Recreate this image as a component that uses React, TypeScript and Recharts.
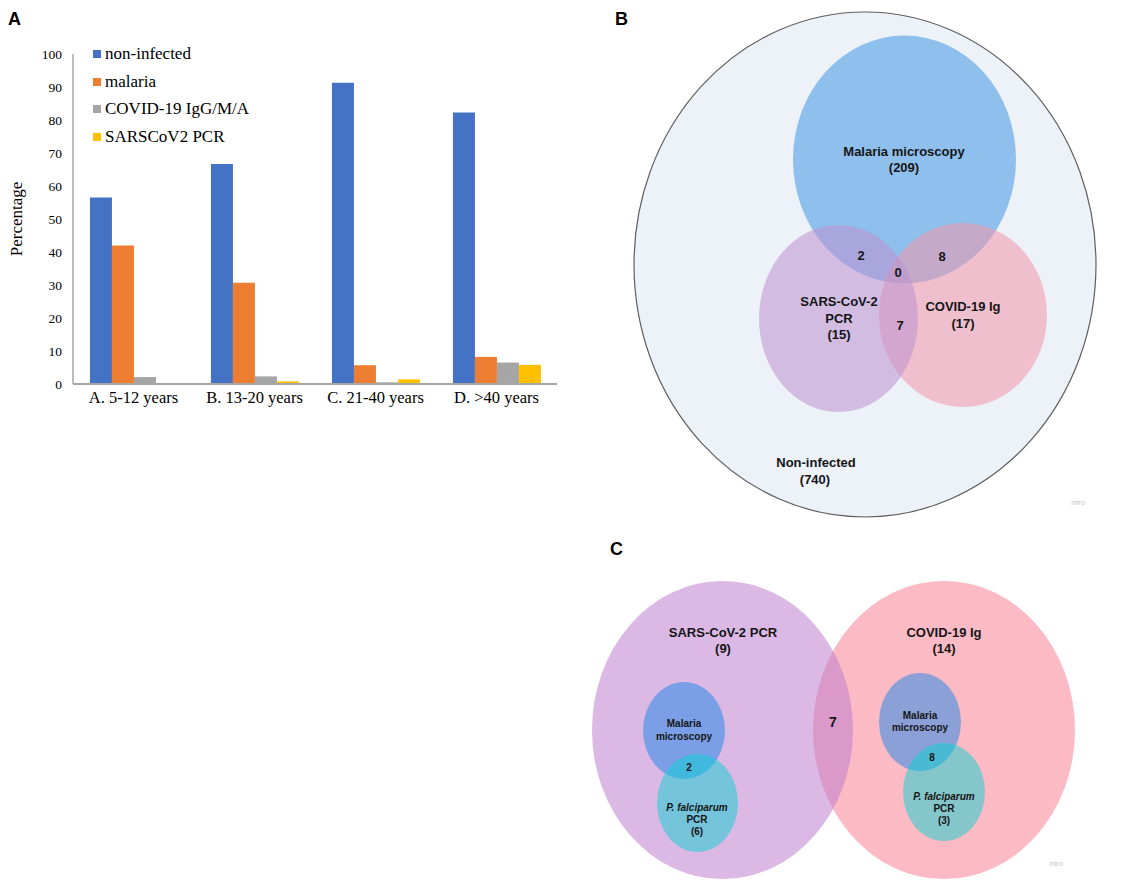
import React from 'react';
import { BarChart, Bar, XAxis, YAxis, Legend, ScatterChart, Scatter } from 'recharts';

// ---- Panel A data ----
const ageGroups = ['A. 5-12 years', 'B. 13-20 years', 'C. 21-40 years', 'D. >40 years'];
const seriesNames = ['non-infected', 'malaria', 'COVID-19 IgG/M/A', 'SARSCoV2 PCR'];
const nonInfected = [56.5, 66.7, 91.3, 82.3];
const malaria = [42.0, 30.7, 5.7, 8.2];
const covidIg = [2.1, 2.3, 0.5, 6.5];
const sarsPcr = [0, 0.8, 1.4, 5.8];
const yTicks = [0, 10, 20, 30, 40, 50, 60, 70, 80, 90, 100];

// ---- Panel B data ----
const vennBNames = ['Non-infected', 'Malaria microscopy', 'COVID-19 Ig', 'SARS-CoV-2 PCR'];
const vennBCounts = [740, 209, 17, 15];
const vennBOverlaps = [2, 8, 0, 7]; // malaria∩sars, malaria∩covid, all three, sars∩covid

// ---- Panel C data ----
const vennCNames = ['COVID-19 Ig', 'SARS-CoV-2 PCR', 'Malaria microscopy', 'P. falciparum PCR'];
const vennCCounts = [14, 9, 6, 3];
const vennCOverlaps = [7, 2, 8]; // sars∩covid, malaria∩pf (sars side), malaria∩pf (covid side)

const serif = '"Liberation Serif", "Times New Roman", serif';
const sans = '"Liberation Sans", Arial, sans-serif';

const barData = ageGroups.map((g, i) => ({
  group: g,
  nonInfected: nonInfected[i],
  malaria: malaria[i],
  covid: covidIg[i],
  sars: sarsPcr[i],
}));

// layout of the diagrams (panel units, 1 unit = 1 px)
const B_W = 533;
const B_H = 530;
const bGeom = [
  { x: 265, y: 264.5, rx: 231, ry: 252.5 },
  { x: 304.5, y: 159.5, rx: 111.5, ry: 124 },
  { x: 363, y: 315, rx: 84, ry: 92 },
  { x: 238.5, y: 318.5, rx: 79.5, ry: 93.5 },
];
const bStyle = [
  { fill: '#edf2f8', opacity: 1, stroke: '#5f5f5f' },
  { fill: '#8fc0ed', opacity: 1 },
  { fill: 'rgb(240,150,170)', opacity: 0.55 },
  { fill: 'rgb(189,147,208)', opacity: 0.56 },
];

const C_W = 573;
const C_H = 370;
const cGeom = [
  { x: 384, y: 210, rx: 131, ry: 149 },
  { x: 162.5, y: 210, rx: 130.5, ry: 149 },
  { x: 124, y: 210.5, rx: 41, ry: 48.5 },
  { x: 137.5, y: 283, rx: 40.5, ry: 49 },
  { x: 360, y: 202, rx: 41, ry: 49 },
  { x: 384, y: 272, rx: 41, ry: 49 },
];
const cStyle = [
  { fill: '#fcbac4', opacity: 1 },
  { fill: 'rgb(191,126,208)', opacity: 0.55 },
  { fill: 'rgb(30,135,231)', opacity: 0.51 },
  { fill: 'rgb(0,212,210)', opacity: 0.47 },
  { fill: 'rgb(30,135,231)', opacity: 0.51 },
  { fill: 'rgb(0,212,210)', opacity: 0.47 },
];

const bCircles = bGeom.map((g, i) => ({ ...g, ...bStyle[i], name: vennBNames[i] }));
const cCircles = cGeom.map((g, i) => ({ ...g, ...cStyle[i] }));

const bLabels = [
  { x: 304, y: 151, text: vennBNames[1], size: 13 },
  { x: 304, y: 167, text: `(${vennBCounts[1]})`, size: 13 },
  { x: 261, y: 255, text: String(vennBOverlaps[0]), size: 13 },
  { x: 342, y: 256, text: String(vennBOverlaps[1]), size: 13 },
  { x: 298, y: 272, text: String(vennBOverlaps[2]), size: 13 },
  { x: 239, y: 301, text: 'SARS-CoV-2', size: 13 },
  { x: 239, y: 318, text: 'PCR', size: 13 },
  { x: 239, y: 334, text: `(${vennBCounts[3]})`, size: 13 },
  { x: 300, y: 325, text: String(vennBOverlaps[3]), size: 13 },
  { x: 363, y: 306, text: vennBNames[2], size: 13 },
  { x: 363, y: 323, text: `(${vennBCounts[2]})`, size: 13 },
  { x: 216, y: 462, text: vennBNames[0], size: 13 },
  { x: 215, y: 479, text: `(${vennBCounts[0]})`, size: 13 },
  { x: 478, y: 502, text: 'miro', size: 7, color: '#c4c4c4', weight: 'normal' },
];

const cLabels = [
  { x: 163, y: 112, text: vennCNames[1], size: 13 },
  { x: 163, y: 128, text: `(${vennCCounts[1]})`, size: 13 },
  { x: 384, y: 112, text: vennCNames[0], size: 13 },
  { x: 384, y: 128, text: `(${vennCCounts[0]})`, size: 13 },
  { x: 273, y: 202, text: String(vennCOverlaps[0]), size: 14 },
  { x: 124, y: 203, text: 'Malaria', size: 10 },
  { x: 124, y: 216, text: 'microscopy', size: 10 },
  { x: 129, y: 247, text: String(vennCOverlaps[1]), size: 10 },
  { x: 137, y: 287, text: 'P. falciparum', size: 10, italic: true },
  { x: 137, y: 299, text: 'PCR', size: 10 },
  { x: 137, y: 311, text: `(${vennCCounts[2]})`, size: 10 },
  { x: 360, y: 195, text: 'Malaria', size: 10 },
  { x: 360, y: 207, text: 'microscopy', size: 10 },
  { x: 372, y: 237, text: String(vennCOverlaps[2]), size: 10 },
  { x: 384, y: 276, text: 'P. falciparum', size: 10, italic: true },
  { x: 384, y: 288, text: 'PCR', size: 10 },
  { x: 384, y: 300, text: `(${vennCCounts[3]})`, size: 10 },
  { x: 496, y: 343, text: 'miro', size: 7, color: '#c4c4c4', weight: 'normal' },
];

const ellipseShape = (k: number) => (props: any) => {
  const { cx, cy, payload } = props;
  return (
    <ellipse
      cx={cx}
      cy={cy}
      rx={payload.rx * k}
      ry={payload.ry * k}
      fill={payload.fill}
      fillOpacity={payload.opacity}
      stroke={payload.stroke || 'none'}
      strokeWidth={1.2}
    />
  );
};

const textShape = (props: any) => {
  const { cx, cy, payload } = props;
  return (
    <text
      x={cx}
      y={cy}
      textAnchor="middle"
      dominantBaseline="central"
      fontFamily={sans}
      fontSize={payload.size}
      fontWeight={payload.weight || 'bold'}
      fontStyle={payload.italic ? 'italic' : 'normal'}
      fill={payload.color || '#151515'}
    >
      {payload.text}
    </text>
  );
};

// keep the legend in series order (recharts 3 sorts it by name otherwise)
const renderLegend = (props: any) => {
  const items = [...(props.payload || [])].sort(
    (a: any, b: any) => seriesNames.indexOf(a.value) - seriesNames.indexOf(b.value)
  );
  return (
    <div style={{ fontFamily: serif, fontSize: 17, color: '#000' }}>
      {items.map((p: any) => (
        <div key={p.value} style={{ display: 'flex', alignItems: 'center', height: 27.7 }}>
          <span style={{ display: 'inline-block', width: 8, height: 8, background: p.color, marginRight: 4 }} />
          <span>{p.value}</span>
        </div>
      ))}
    </div>
  );
};

const panelLetter = (letter: string, left: number, top: number) => (
  <div
    style={{
      position: 'absolute',
      left,
      top,
      fontFamily: sans,
      fontWeight: 'bold',
      fontSize: 18,
      lineHeight: 1,
    }}
  >
    {letter}
  </div>
);

const App: React.FC = () => {
  return (
    <div style={{ position: 'absolute', left: 0, top: 0, width: 1133, height: 890, background: '#fff', overflow: 'hidden' }}>
      {panelLetter('A', 8, 10)}
      {panelLetter('B', 615, 10)}
      {panelLetter('C', 610, 540)}

      <div style={{ position: 'absolute', left: 0, top: 0 }}>
        <BarChart
          width={570}
          height={430}
          data={barData}
          margin={{ top: 54, right: 13, bottom: 0, left: 0 }}
          barCategoryGap="14%"
          barGap={0}
        >
          <XAxis
            dataKey="group"
            height={46}
            interval={0}
            axisLine={{ stroke: '#a6a6a6', strokeWidth: 2 }}
            tickLine={false}
            tickSize={0}
            tickMargin={7}
            tick={{ fill: '#000', fontSize: 16.5, fontFamily: serif }}
          />
          <YAxis
            domain={[0, 100]}
            ticks={yTicks}
            width={73}
            axisLine={{ stroke: '#a6a6a6', strokeWidth: 1.5 }}
            tickLine={false}
            tickSize={0}
            tickMargin={11}
            tick={{ fill: '#000', fontSize: 13.5, fontFamily: serif }}
            label={{
              value: 'Percentage',
              angle: -90,
              position: 'insideLeft',
              offset: 16,
              style: { textAnchor: 'middle', fontFamily: serif, fontSize: 17, fill: '#000' },
            }}
          />
          <Legend
            layout="vertical"
            align="center"
            verticalAlign="middle"
            content={renderLegend}
            wrapperStyle={{ left: 93, top: 40, width: 'auto' }}
          />
          <Bar dataKey="nonInfected" name={seriesNames[0]} fill="#4472C4" isAnimationActive={false} />
          <Bar dataKey="malaria" name={seriesNames[1]} fill="#ED7D31" isAnimationActive={false} />
          <Bar dataKey="covid" name={seriesNames[2]} fill="#A5A5A5" isAnimationActive={false} />
          <Bar dataKey="sars" name={seriesNames[3]} fill="#FFC000" isAnimationActive={false} />
        </BarChart>
      </div>

      <div style={{ position: 'absolute', left: 600, top: 0 }}>
        <ScatterChart width={B_W} height={B_H} margin={{ top: 0, right: 0, bottom: 0, left: 0 }}>
          <XAxis type="number" dataKey="x" domain={[0, B_W]} hide />
          <YAxis type="number" dataKey="y" domain={[0, B_H]} reversed hide />
          <Scatter data={bCircles} shape={ellipseShape(1)} isAnimationActive={false} />
          <Scatter data={bLabels} shape={textShape} isAnimationActive={false} />
        </ScatterChart>
      </div>

      <div style={{ position: 'absolute', left: 560, top: 520 }}>
        <ScatterChart width={C_W} height={C_H} margin={{ top: 0, right: 0, bottom: 0, left: 0 }}>
          <XAxis type="number" dataKey="x" domain={[0, C_W]} hide />
          <YAxis type="number" dataKey="y" domain={[0, C_H]} reversed hide />
          <Scatter data={cCircles} shape={ellipseShape(1)} isAnimationActive={false} />
          <Scatter data={cLabels} shape={textShape} isAnimationActive={false} />
        </ScatterChart>
      </div>
    </div>
  );
};

export default App;
